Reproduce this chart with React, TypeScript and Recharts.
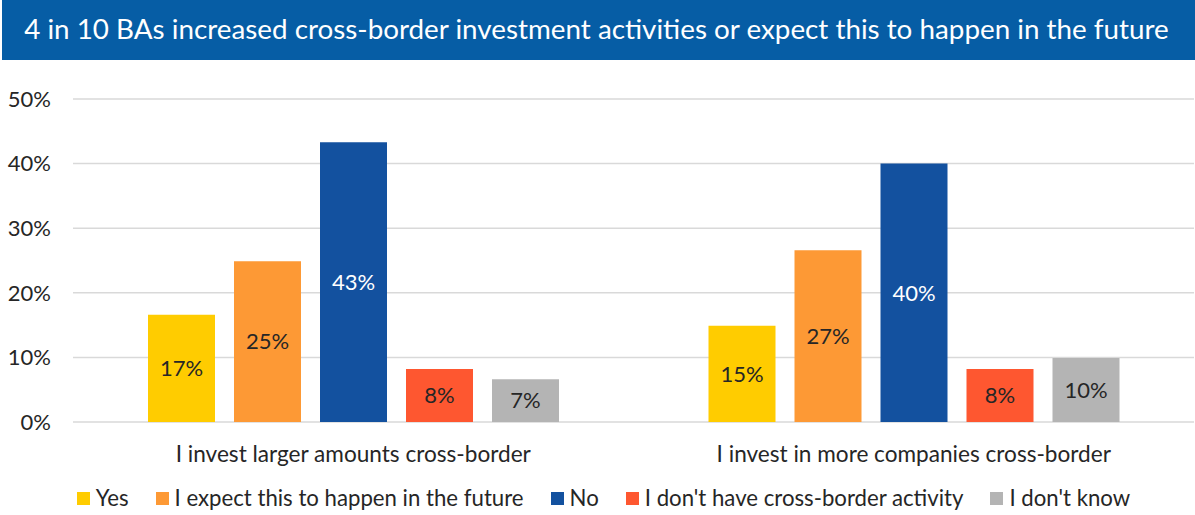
import { Bar, BarChart, CartesianGrid, LabelList, XAxis, YAxis } from "recharts"

// survey answers, share of respondents (%)
const categories = [
  "I invest larger amounts cross-border",
  "I invest in more companies cross-border",
]
const yes = [16.6, 14.9]
const expectFuture = [24.9, 26.6]
const no = [43.3, 40.0]
const noActivity = [8.2, 8.2]
const dontKnow = [6.6, 9.9]
const yTicks = [0, 10, 20, 30, 40, 50]

const series = [
  { key: "yes", name: "Yes", values: yes, color: "#FFCC00", labelColor: "#262626" },
  { key: "expect", name: "I expect this to happen in the future", values: expectFuture, color: "#FD9935", labelColor: "#262626" },
  { key: "no", name: "No", values: no, color: "#13519F", labelColor: "#FFFFFF" },
  { key: "noActivity", name: "I don't have cross-border activity", values: noActivity, color: "#FE5730", labelColor: "#262626" },
  { key: "dontKnow", name: "I don't know", values: dontKnow, color: "#B4B4B4", labelColor: "#262626" },
]

const data = categories.map((name, i) => {
  const row: Record<string, string | number> = { name }
  series.forEach((s) => {
    row[s.key] = s.values[i]
  })
  return row
})

const font = "Lato, 'Open Sans', sans-serif"

export default function App() {
  return (
    <div
      style={{
        position: "absolute",
        left: 0,
        top: 0,
        width: 1195,
        height: 515,
        background: "#fff",
        fontFamily: font,
        overflow: "hidden",
      }}
    >
      <div
        style={{
          position: "absolute",
          left: 2,
          top: 0,
          width: 1193,
          height: 60,
          background: "#065DA5",
          color: "#fff",
          fontSize: 27.8,
          lineHeight: "58px",
          textAlign: "center",
          paddingRight: 4,
          boxSizing: "border-box",
          whiteSpace: "nowrap",
        }}
      >
        4 in 10 BAs increased cross-border investment activities or expect this to happen in the future
      </div>

      <div style={{ position: "absolute", left: 0, top: 0 }}>
        <BarChart
          width={1195}
          height={515}
          data={data}
          margin={{ top: 99, right: 1, left: 0, bottom: 53 }}
          barSize={67}
          barGap={19}
        >
          <CartesianGrid vertical={false} stroke="#D9D9D9" strokeWidth={1.5} />
          <XAxis
            dataKey="name"
            height={40}
            tickLine={false}
            axisLine={false}
            tickSize={0}
            tickMargin={24}
            tick={{ fill: "#262626", fontSize: 22.6, fontFamily: font }}
          />
          <YAxis
            width={73}
            domain={[0, 50]}
            ticks={yTicks}
            tickLine={false}
            axisLine={false}
            tickSize={0}
            tickMargin={22}
            tick={{ fill: "#262626", fontSize: 22, fontFamily: font }}
            tickFormatter={(v) => `${v}%`}
          />
          {series.map((s) => (
            <Bar key={s.key} dataKey={s.key} name={s.name} fill={s.color} isAnimationActive={false}>
              <LabelList
                dataKey={s.key}
                position="center"
                fill={s.labelColor}
                fontSize={22}
                fontFamily={font}
                formatter={(v: number) => `${Math.round(v)}%`}
              />
            </Bar>
          ))}
        </BarChart>
      </div>

      <div
        style={{
          position: "absolute",
          left: 0,
          top: 486,
          width: 1207,
          display: "flex",
          justifyContent: "center",
          alignItems: "center",
          gap: 27,
          fontSize: 22.2,
          color: "#262626",
          lineHeight: "24px",
          whiteSpace: "nowrap",
        }}
      >
        {series.map((s) => (
          <div key={s.key} style={{ display: "flex", alignItems: "center" }}>
            <span style={{ width: 13, height: 13, background: s.color, display: "inline-block", marginRight: 6 }} />
            <span>{s.name}</span>
          </div>
        ))}
      </div>
    </div>
  )
}
